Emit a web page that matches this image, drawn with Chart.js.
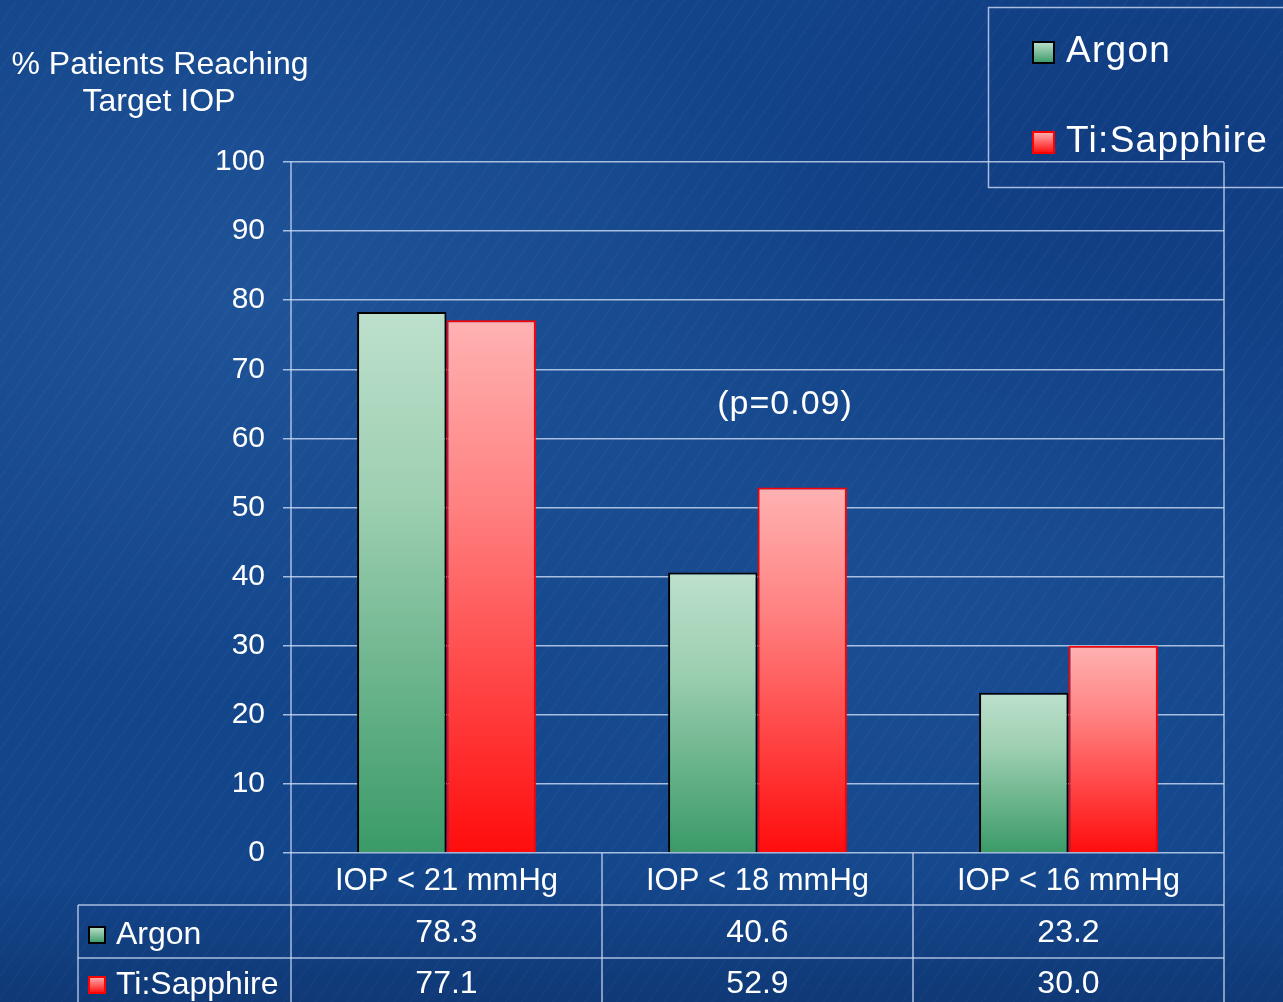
<!DOCTYPE html>
<html>
<head>
<meta charset="utf-8">
<script src="https://cdn.jsdelivr.net/npm/chart.js@4.4.1/dist/chart.umd.min.js"></script>
<style>
html, body { margin: 0; padding: 0; width: 1283px; height: 1002px; overflow: hidden; }
body {
    background-color: #13458a;
    background-image:
        linear-gradient(to bottom, rgba(0,0,0,0) 88%, rgba(5,20,60,0.25) 100%),
        repeating-linear-gradient(125deg, rgba(255,255,255,0.025) 0 2px, rgba(0,0,0,0) 2px 13px),
        radial-gradient(ellipse at 20% 30%, rgba(80,140,210,0.2), rgba(0,0,0,0) 40%),
        radial-gradient(ellipse at 70% 60%, rgba(70,130,200,0.14), rgba(0,0,0,0) 45%),
        radial-gradient(ellipse at 90% 15%, rgba(10,40,110,0.3), rgba(0,0,0,0) 35%);
}
canvas { display: block; }
</style>
</head>
<body>
<canvas id="myChart" width="1283" height="1002"></canvas>
<script>
var categories = ["IOP < 21 mmHg", "IOP < 18 mmHg", "IOP < 16 mmHg"];
var argon = [78.3, 40.6, 23.2];
var tiSapphire = [77.1, 52.9, 30.0];
var seriesNames = ["Argon", "Ti:Sapphire"];
var yMin = 0, yMax = 100, yStep = 10;

var FONT = "'Liberation Sans', Arial, sans-serif";
var LINE = "rgba(205,220,245,0.8)";
var greenStops = ["#bde0cc", "#9dcfb1", "#3a9a68"];
var redStops = ["#ffb2b2", "#ff8080", "#ff0c0c"];

// vertical gradient per bar, from its top down to zero
function barFill(stops) {
    return function (context) {
        var chart = context.chart;
        var y = chart.scales.y;
        if (!y || context.raw == null) return stops[2];
        var top = y.getPixelForValue(context.raw);
        var bottom = y.getPixelForValue(0);
        if (!isFinite(top) || !isFinite(bottom) || top === bottom) return stops[2];
        var g = chart.ctx.createLinearGradient(0, top, 0, bottom);
        g.addColorStop(0, stops[0]);
        g.addColorStop(0.35, stops[1]);
        g.addColorStop(1, stops[2]);
        return g;
    };
}

function swatch(ctx, x, y, s, stops, border) {
    var g = ctx.createLinearGradient(0, y, 0, y + s);
    g.addColorStop(0, stops[0]);
    g.addColorStop(1, stops[2]);
    ctx.fillStyle = g;
    ctx.fillRect(x, y, s, s);
    ctx.lineWidth = 2;
    ctx.strokeStyle = border;
    ctx.strokeRect(x, y, s, s);
}

function hline(ctx, x1, x2, y) {
    ctx.beginPath(); ctx.moveTo(x1, y); ctx.lineTo(x2, y); ctx.stroke();
}
function vline(ctx, x, y1, y2) {
    ctx.beginPath(); ctx.moveTo(x, y1); ctx.lineTo(x, y2); ctx.stroke();
}

var extras = {
    id: "extras",
    afterDraw: function (chart) {
        var ctx = chart.ctx;
        var area = chart.chartArea;
        var xs = chart.scales.x;
        ctx.save();

        // table / frame lines
        ctx.strokeStyle = LINE;
        ctx.lineWidth = 1.5;
        vline(ctx, area.left, area.top, 1002);
        vline(ctx, area.right, area.top, 1002);
        for (var i = 1; i < categories.length; i++) {
            var bx = (xs.getPixelForValue(i - 1) + xs.getPixelForValue(i)) / 2;
            vline(ctx, bx, area.bottom, 1002);
        }
        hline(ctx, 78, area.right, 905);
        hline(ctx, 78, area.right, 958);
        vline(ctx, 78, 905, 1002);

        // table values
        ctx.fillStyle = "#ffffff";
        ctx.font = "32px " + FONT;
        ctx.textAlign = "center";
        ctx.textBaseline = "middle";
        for (var j = 0; j < categories.length; j++) {
            var cx = xs.getPixelForValue(j);
            ctx.fillText(argon[j].toFixed(1), cx, 933);
            ctx.fillText(tiSapphire[j].toFixed(1), cx, 984);
        }
        ctx.textAlign = "left";
        swatch(ctx, 89, 927, 16, greenStops, "#000000");
        ctx.fillStyle = "#ffffff";
        ctx.fillText(seriesNames[0], 116, 935);
        swatch(ctx, 89, 977, 16, redStops, "#ff0000");
        ctx.fillStyle = "#ffffff";
        ctx.fillText(seriesNames[1], 116, 985);

        // axis title
        ctx.textAlign = "center";
        ctx.font = "32px " + FONT;
        ctx.fillText("% Patients Reaching", 160, 65);
        ctx.fillText("Target IOP", 159, 102);

        // p value
        ctx.font = "34px " + FONT;
        if ("letterSpacing" in ctx) ctx.letterSpacing = "1px";
        ctx.fillText("(p=0.09)", 785, 405);

        // legend box
        ctx.strokeStyle = LINE;
        ctx.lineWidth = 1.5;
        ctx.strokeRect(988.5, 7.5, 330, 180);
        swatch(ctx, 1033, 42, 21, greenStops, "#000000");
        swatch(ctx, 1033, 132, 21, redStops, "#ff0000");
        ctx.fillStyle = "#ffffff";
        ctx.textAlign = "left";
        ctx.font = "37px " + FONT;
        if ("letterSpacing" in ctx) ctx.letterSpacing = "1.3px";
        ctx.fillText(seriesNames[0], 1066, 52);
        ctx.fillText(seriesNames[1], 1066, 142);
        ctx.restore();
    }
};

var myChart = document.getElementById("myChart").getContext("2d");
var chart = new Chart(myChart, {
    type: "bar",
    data: {
        labels: categories,
        datasets: [
            {
                label: seriesNames[0],
                data: argon,
                backgroundColor: barFill(greenStops),
                borderColor: "#000000",
                borderWidth: 2,
                barPercentage: 1.0,
                categoryPercentage: 0.575
            },
            {
                label: seriesNames[1],
                data: tiSapphire,
                backgroundColor: barFill(redStops),
                borderColor: "#ff0000",
                borderWidth: 2,
                barPercentage: 1.0,
                categoryPercentage: 0.575
            }
        ]
    },
    options: {
        responsive: false,
        animation: false,
        devicePixelRatio: 1,
        layout: { padding: { left: 0, top: 162, right: 59, bottom: 0 } },
        plugins: {
            legend: { display: false },
            title: { display: false },
            tooltip: { enabled: false }
        },
        scales: {
            x: {
                grid: { display: false, drawTicks: false },
                border: { display: false },
                ticks: {
                    color: "#ffffff",
                    font: { family: FONT, size: 31 },
                    padding: 10,
                    maxRotation: 0
                },
                afterFit: function (scale) { scale.height = 149; }
            },
            y: {
                min: yMin,
                max: yMax,
                ticks: {
                    stepSize: yStep,
                    color: "#ffffff",
                    font: { family: FONT, size: 30 },
                    padding: 18
                },
                grid: {
                    color: LINE,
                    lineWidth: 1.5,
                    tickLength: 8
                },
                border: { display: false },
                afterFit: function (scale) { scale.width = 291; }
            }
        }
    },
    plugins: [extras]
});
</script>
</body>
</html>
